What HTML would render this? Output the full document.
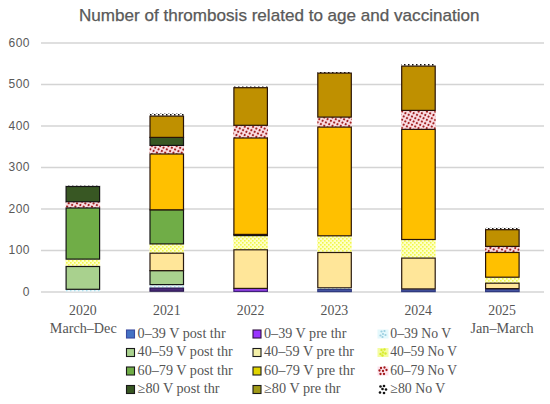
<!DOCTYPE html>
<html><head><meta charset="utf-8"><style>
html,body{margin:0;padding:0;background:#fff;}
body{width:550px;height:404px;overflow:hidden;}
svg{display:block;}
.t{font-family:"Liberation Sans",sans-serif;font-size:15.7px;fill:#595959;stroke:#595959;stroke-width:0.25px;}
.yl{font-family:"Liberation Sans",sans-serif;font-size:12px;fill:#595959;letter-spacing:0.5px;}
.xl{font-family:"Liberation Serif",serif;font-size:13.8px;fill:#555555;}
.lg{font-family:"Liberation Serif",serif;font-size:13.8px;fill:#555555;}
</style></head><body>
<svg width="550" height="404" viewBox="0 0 550 404">
<defs>
<pattern id="pcy" width="4" height="4" patternUnits="userSpaceOnUse"><rect width="4" height="4" fill="#f0fbff"/><rect x="0" y="0" width="1.5" height="1.5" fill="#b0e2f0"/><rect x="2" y="2" width="1.5" height="1.5" fill="#b0e2f0"/></pattern>
<pattern id="pyd" width="4" height="4" patternUnits="userSpaceOnUse"><rect width="4" height="4" fill="#fdffc6"/><rect x="0" y="0" width="1.6" height="1.6" fill="#f2f74a"/><rect x="2" y="2" width="1.6" height="1.6" fill="#f2f74a"/></pattern>
<pattern id="prd" width="3.7" height="3.7" patternUnits="userSpaceOnUse" patternTransform="rotate(27)"><rect width="3.7" height="3.7" fill="#fce2e8"/><circle cx="1.85" cy="1.85" r="1.1" fill="#a01c1c"/></pattern>
<pattern id="pkd" width="4" height="4" patternUnits="userSpaceOnUse"><rect width="4" height="4" fill="#ffffff"/><rect x="0" y="0" width="1.5" height="1.5" fill="#111"/><rect x="2" y="2" width="1.5" height="1.5" fill="#111"/></pattern>
</defs>
<text x="79" y="21" textLength="400.5" lengthAdjust="spacingAndGlyphs" class="t">Number of thrombosis related to age and vaccination</text>
<line x1="41" x2="544" y1="292.00" y2="292.00" stroke="#d4d4d4" stroke-width="1.4"/>
<text x="30" y="295.80" text-anchor="end" class="yl">0</text>
<line x1="41" x2="544" y1="250.50" y2="250.50" stroke="#d4d4d4" stroke-width="1.4"/>
<text x="30" y="254.30" text-anchor="end" class="yl">100</text>
<line x1="41" x2="544" y1="209.00" y2="209.00" stroke="#d4d4d4" stroke-width="1.4"/>
<text x="30" y="212.80" text-anchor="end" class="yl">200</text>
<line x1="41" x2="544" y1="167.50" y2="167.50" stroke="#d4d4d4" stroke-width="1.4"/>
<text x="30" y="171.30" text-anchor="end" class="yl">300</text>
<line x1="41" x2="544" y1="126.00" y2="126.00" stroke="#d4d4d4" stroke-width="1.4"/>
<text x="30" y="129.80" text-anchor="end" class="yl">400</text>
<line x1="41" x2="544" y1="84.50" y2="84.50" stroke="#d4d4d4" stroke-width="1.4"/>
<text x="30" y="88.30" text-anchor="end" class="yl">500</text>
<line x1="41" x2="544" y1="43.00" y2="43.00" stroke="#d4d4d4" stroke-width="1.4"/>
<text x="30" y="46.80" text-anchor="end" class="yl">600</text>
<rect x="65.6" y="289.3" width="34.5" height="2.20" fill="url(#pcy)"/>
<rect x="65.6" y="259.1" width="34.5" height="7.40" fill="url(#pyd)"/>
<rect x="65.6" y="201.7" width="34.5" height="6.30" fill="url(#prd)"/>
<rect x="65.6" y="185.3" width="34.5" height="1.20" fill="url(#pkd)"/>
<rect x="66.1" y="266.50" width="33.5" height="22.80" fill="#A9D18E" stroke="#141414" stroke-width="1.2"/>
<rect x="66.1" y="208.00" width="33.5" height="51.10" fill="#70AD47" stroke="#141414" stroke-width="1.2"/>
<rect x="66.1" y="186.50" width="33.5" height="15.20" fill="#385723" stroke="#141414" stroke-width="1.2"/>
<rect x="149.5" y="284.6" width="34.5" height="3.50" fill="url(#pcy)"/>
<rect x="149.5" y="243.9" width="34.5" height="9.30" fill="url(#pyd)"/>
<rect x="149.5" y="145.4" width="34.5" height="8.60" fill="url(#prd)"/>
<rect x="149.5" y="113.2" width="34.5" height="2.90" fill="url(#pkd)"/>
<rect x="150.0" y="288.10" width="33.5" height="3.10" fill="#4B2A7A" stroke="#281850" stroke-width="1.2"/>
<rect x="150.0" y="270.60" width="33.5" height="14.00" fill="#A9D18E" stroke="#141414" stroke-width="1.2"/>
<rect x="150.0" y="253.20" width="33.5" height="17.40" fill="#FFE699" stroke="#2a1a10" stroke-width="1.2"/>
<rect x="150.0" y="209.80" width="33.5" height="34.10" fill="#70AD47" stroke="#141414" stroke-width="1.2"/>
<rect x="150.0" y="154.00" width="33.5" height="55.80" fill="#FFC000" stroke="#2a1408" stroke-width="1.2"/>
<rect x="150.0" y="137.40" width="33.5" height="8.00" fill="#385723" stroke="#141414" stroke-width="1.2"/>
<rect x="150.0" y="116.10" width="33.5" height="21.30" fill="#BF9000" stroke="#2a1408" stroke-width="1.2"/>
<rect x="233.4" y="235.6" width="34.5" height="14.20" fill="url(#pyd)"/>
<rect x="233.4" y="125.3" width="34.5" height="12.70" fill="url(#prd)"/>
<rect x="233.4" y="86.5" width="34.5" height="1.20" fill="url(#pkd)"/>
<rect x="233.9" y="288.40" width="33.5" height="3.00" fill="#9340E8" stroke="#40207a" stroke-width="1.2"/>
<rect x="233.9" y="249.80" width="33.5" height="38.60" fill="#FFE699" stroke="#2a1a10" stroke-width="1.2"/>
<rect x="233.9" y="234.40" width="33.5" height="1.20" fill="#70AD47" stroke="#141414" stroke-width="1.2"/>
<rect x="233.9" y="138.00" width="33.5" height="96.40" fill="#FFC000" stroke="#2a1408" stroke-width="1.2"/>
<rect x="233.9" y="87.70" width="33.5" height="37.60" fill="#BF9000" stroke="#2a1408" stroke-width="1.2"/>
<rect x="317.3" y="287.8" width="34.5" height="1.80" fill="url(#pcy)"/>
<rect x="317.3" y="235.8" width="34.5" height="16.70" fill="url(#pyd)"/>
<rect x="317.3" y="117.1" width="34.5" height="10.00" fill="url(#prd)"/>
<rect x="317.3" y="72.0" width="34.5" height="1.10" fill="url(#pkd)"/>
<rect x="317.8" y="289.60" width="33.5" height="2.00" fill="#4a5aa8" stroke="#303a80" stroke-width="1.2"/>
<rect x="317.8" y="252.50" width="33.5" height="35.30" fill="#FFE699" stroke="#2a1a10" stroke-width="1.2"/>
<rect x="317.8" y="127.10" width="33.5" height="108.70" fill="#FFC000" stroke="#2a1408" stroke-width="1.2"/>
<rect x="317.8" y="73.10" width="33.5" height="44.00" fill="#BF9000" stroke="#2a1408" stroke-width="1.2"/>
<rect x="401.20000000000005" y="288.9" width="34.5" height="0.90" fill="url(#pcy)"/>
<rect x="401.20000000000005" y="239.5" width="34.5" height="18.60" fill="url(#pyd)"/>
<rect x="401.20000000000005" y="110.4" width="34.5" height="19.00" fill="url(#prd)"/>
<rect x="401.20000000000005" y="64.0" width="34.5" height="2.10" fill="url(#pkd)"/>
<rect x="401.70000000000005" y="289.80" width="33.5" height="1.80" fill="#4a5aa8" stroke="#303a80" stroke-width="1.2"/>
<rect x="401.70000000000005" y="258.10" width="33.5" height="30.80" fill="#FFE699" stroke="#2a1a10" stroke-width="1.2"/>
<rect x="401.70000000000005" y="129.40" width="33.5" height="110.10" fill="#FFC000" stroke="#2a1408" stroke-width="1.2"/>
<rect x="401.70000000000005" y="66.10" width="33.5" height="44.30" fill="#BF9000" stroke="#2a1408" stroke-width="1.2"/>
<rect x="485.1" y="288.6" width="34.5" height="1.00" fill="url(#pcy)"/>
<rect x="485.1" y="277.2" width="34.5" height="6.00" fill="url(#pyd)"/>
<rect x="485.1" y="246.4" width="34.5" height="6.10" fill="url(#prd)"/>
<rect x="485.1" y="227.6" width="34.5" height="2.10" fill="url(#pkd)"/>
<rect x="485.6" y="289.60" width="33.5" height="2.00" fill="#4a5aa8" stroke="#303a80" stroke-width="1.2"/>
<rect x="485.6" y="283.20" width="33.5" height="5.40" fill="#FFE699" stroke="#2a1a10" stroke-width="1.2"/>
<rect x="485.6" y="252.50" width="33.5" height="24.70" fill="#FFC000" stroke="#2a1408" stroke-width="1.2"/>
<rect x="485.6" y="229.70" width="33.5" height="16.70" fill="#BF9000" stroke="#2a1408" stroke-width="1.2"/>
<text x="82.9" y="314.7" text-anchor="middle" class="xl">2020</text>
<text x="49.8" y="333.4" textLength="66.9" lengthAdjust="spacingAndGlyphs" class="xl">March–Dec</text>
<text x="166.8" y="314.7" text-anchor="middle" class="xl">2021</text>
<text x="250.6" y="314.7" text-anchor="middle" class="xl">2022</text>
<text x="334.4" y="314.7" text-anchor="middle" class="xl">2023</text>
<text x="418.2" y="314.7" text-anchor="middle" class="xl">2024</text>
<text x="502.1" y="314.7" text-anchor="middle" class="xl">2025</text>
<text x="470.5" y="333.4" textLength="63.2" lengthAdjust="spacingAndGlyphs" class="xl">Jan–March</text>
<rect x="126.5" y="330.0" width="8" height="8" fill="#4472C4" stroke="#3a4aa0" stroke-width="1.1"/>
<text x="137.6" y="337.6" textLength="88.0" lengthAdjust="spacingAndGlyphs" class="lg">0–39 V post thr</text>
<rect x="253.0" y="330.0" width="8" height="8" fill="#9933FF" stroke="#301040" stroke-width="1.1"/>
<text x="264" y="337.6" textLength="82.4" lengthAdjust="spacingAndGlyphs" class="lg">0–39 V pre thr</text>
<rect x="377.5" y="329.5" width="11" height="9" fill="#e4f8fc"/>
<circle cx="381.5" cy="331.5" r="1.1" fill="#9ccfe0"/>
<circle cx="384.5" cy="331.0" r="1.1" fill="#9ccfe0"/>
<circle cx="383.0" cy="334.0" r="1.1" fill="#9ccfe0"/>
<circle cx="380.5" cy="335.5" r="1.1" fill="#9ccfe0"/>
<circle cx="385.5" cy="335.0" r="1.1" fill="#9ccfe0"/>
<circle cx="382.5" cy="337.0" r="1.1" fill="#9ccfe0"/>
<text x="390.3" y="337.6" textLength="60.9" lengthAdjust="spacingAndGlyphs" class="lg">0–39 No V</text>
<rect x="126.5" y="348.5" width="8" height="8" fill="#A9D18E" stroke="#1a1a1a" stroke-width="1.1"/>
<text x="137.6" y="356.1" textLength="95.1" lengthAdjust="spacingAndGlyphs" class="lg">40–59 V post thr</text>
<rect x="253.0" y="348.5" width="8" height="8" fill="#F4F0A8" stroke="#1a1a1a" stroke-width="1.1"/>
<text x="264" y="356.1" textLength="90.1" lengthAdjust="spacingAndGlyphs" class="lg">40–59 V pre thr</text>
<rect x="377.5" y="348.0" width="11" height="9" fill="#f4fca0"/>
<circle cx="381.5" cy="350.0" r="1.2" fill="#d8ec30"/>
<circle cx="384.5" cy="349.5" r="1.2" fill="#d8ec30"/>
<circle cx="383.0" cy="352.5" r="1.2" fill="#d8ec30"/>
<circle cx="380.5" cy="354.0" r="1.2" fill="#d8ec30"/>
<circle cx="385.5" cy="353.5" r="1.2" fill="#d8ec30"/>
<circle cx="382.5" cy="355.5" r="1.2" fill="#d8ec30"/>
<text x="390.3" y="356.1" textLength="66.7" lengthAdjust="spacingAndGlyphs" class="lg">40–59 No V</text>
<rect x="126.5" y="367.0" width="8" height="8" fill="#70AD47" stroke="#1a1a1a" stroke-width="1.1"/>
<text x="137.6" y="374.5" textLength="95.1" lengthAdjust="spacingAndGlyphs" class="lg">60–79 V post thr</text>
<rect x="253.0" y="367.0" width="8" height="8" fill="#E0D400" stroke="#1a1a1a" stroke-width="1.1"/>
<text x="264" y="374.5" textLength="90.7" lengthAdjust="spacingAndGlyphs" class="lg">60–79 V pre thr</text>
<rect x="377.5" y="366.5" width="11" height="9" fill="#fde4ee"/>
<circle cx="381.0" cy="368.0" r="1.15" fill="#a01818"/>
<circle cx="384.5" cy="367.5" r="1.15" fill="#a01818"/>
<circle cx="386.5" cy="370.0" r="1.15" fill="#a01818"/>
<circle cx="379.5" cy="370.5" r="1.15" fill="#a01818"/>
<circle cx="383.0" cy="371.0" r="1.15" fill="#a01818"/>
<circle cx="380.5" cy="374.0" r="1.15" fill="#a01818"/>
<circle cx="384.0" cy="374.0" r="1.15" fill="#a01818"/>
<text x="390.3" y="374.5" textLength="66.7" lengthAdjust="spacingAndGlyphs" class="lg">60–79 No V</text>
<rect x="126.5" y="385.5" width="8" height="8" fill="#385723" stroke="#1a1a1a" stroke-width="1.1"/>
<text x="137.6" y="393.0" textLength="82.0" lengthAdjust="spacingAndGlyphs" class="lg">≥80 V post thr</text>
<rect x="253.0" y="385.5" width="8" height="8" fill="#A09A18" stroke="#1a1a1a" stroke-width="1.1"/>
<text x="264" y="393.0" textLength="76.6" lengthAdjust="spacingAndGlyphs" class="lg">≥80 V pre thr</text>
<rect x="377.5" y="385.0" width="11" height="9" fill="#ffffff"/>
<circle cx="380.5" cy="386.5" r="1.3" fill="#111111"/>
<circle cx="384.0" cy="386.0" r="1.3" fill="#111111"/>
<circle cx="382.5" cy="389.0" r="1.3" fill="#111111"/>
<circle cx="386.0" cy="389.5" r="1.3" fill="#111111"/>
<circle cx="380.0" cy="392.5" r="1.3" fill="#111111"/>
<circle cx="384.0" cy="393.0" r="1.3" fill="#111111"/>
<text x="390.3" y="393.0" textLength="55.1" lengthAdjust="spacingAndGlyphs" class="lg">≥80 No V</text>
</svg>
</body></html>
